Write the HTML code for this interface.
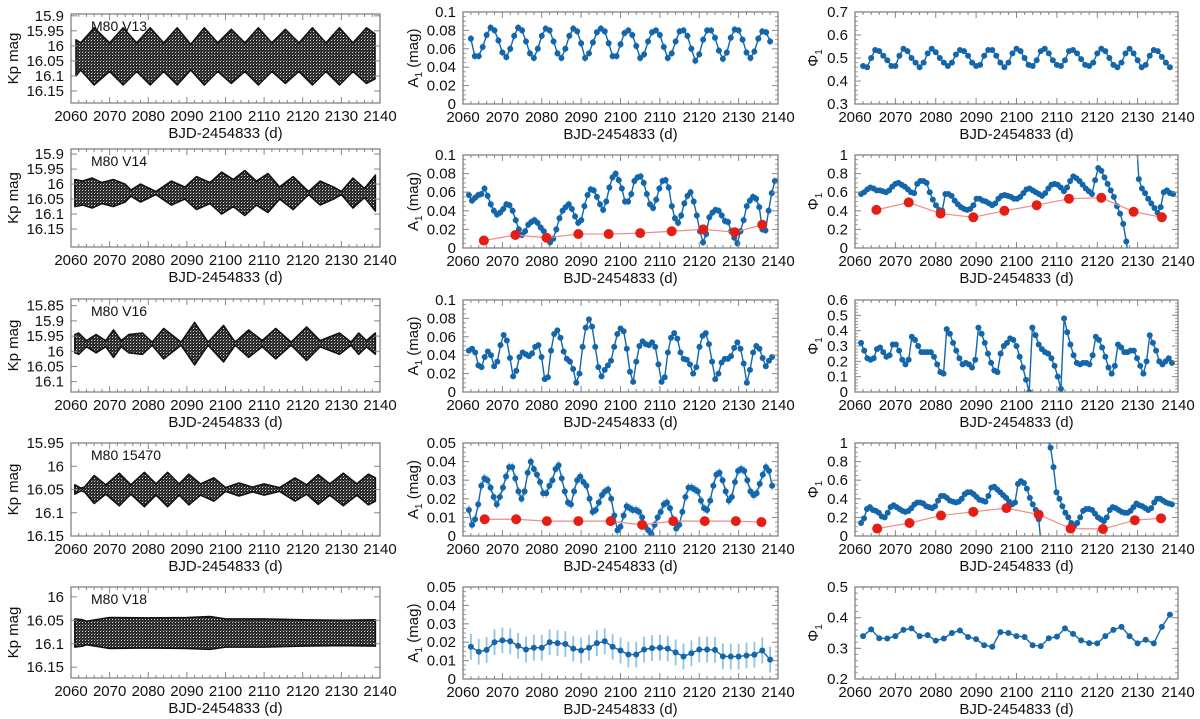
<!DOCTYPE html>
<html><head><meta charset="utf-8"><style>
html,body{margin:0;padding:0;background:#fff}
svg{display:block;font-family:"Liberation Sans",Arial,sans-serif}
</style></head><body>
<svg id="fig" width="1200" height="719" viewBox="0 0 1200 719" xmlns="http://www.w3.org/2000/svg">
<defs>
<pattern id="dots" width="3" height="3" patternUnits="userSpaceOnUse">
<rect x="0" y="0" width="3" height="3" fill="#2a2a2a"/><rect x="1" y="1" width="0.9" height="0.9" fill="#fff"/><rect x="2.2" y="0" width="0.6" height="0.6" fill="#ddd"/>
</pattern>
</defs>
</svg>
<script>
// ---------- DATA ----------
const v13EnvDays=[2061.3,2062.5,2066,2070,2073.5,2077,2080.5,2084,2087.5,2091,2094.5,2098,2101.5,2105,2108.5,2112,2115.5,2119,2122.5,2126,2129.5,2133,2136.5,2138.7];
const v13EnvTop=[15.98,15.99,15.94,15.99,15.94,15.99,15.94,15.99,15.94,15.995,15.94,15.99,15.945,15.99,15.94,15.99,15.945,15.99,15.94,15.99,15.94,15.99,15.94,15.96];
const v13EnvBot=[16.10,16.08,16.13,16.085,16.13,16.085,16.13,16.085,16.13,16.08,16.13,16.085,16.125,16.085,16.13,16.085,16.125,16.085,16.13,16.085,16.13,16.085,16.125,16.11];
const v14EnvDays=[2061,2063,2065.5,2068,2071,2074,2075.5,2078,2082,2086,2089.5,2092.5,2096,2099,2102,2105,2108,2111,2114,2117.5,2121.5,2124.5,2128,2130,2133,2136,2138.8];
const v14EnvHw=[0.045,0.04,0.05,0.035,0.045,0.03,0.01,0.03,0.005,0.04,0.02,0.055,0.035,0.07,0.045,0.075,0.04,0.065,0.02,0.055,0.005,0.04,0.02,0.005,0.05,0.015,0.06];
const v14Centre=16.03;
const v16EnvDays=[2061,2062,2064,2066.5,2069,2071,2073,2075,2078.5,2081,2084,2088.5,2092,2095.5,2099.5,2102.5,2106,2109.5,2113,2117,2121,2124.5,2129.5,2132.5,2134.5,2136.5,2138.8];
const v16EnvHw=[0.03,0.035,0.01,0.03,0.01,0.045,0.01,0.03,0.035,0.005,0.05,0.005,0.07,0.005,0.06,0.005,0.045,0.01,0.05,0.005,0.055,0.01,0.035,0.005,0.035,0.01,0.035];
const v16Centre=15.975;
const s15470EnvDays=[2061,2062.5,2063.5,2066,2069,2072.5,2075.5,2079,2082,2085,2088,2090.5,2093.5,2097,2100,2103.5,2107,2110,2114,2118,2121,2124,2127,2130.5,2134,2137,2138.8];
const s15470EnvHw=[0.01,0.003,0.005,0.03,0.01,0.035,0.01,0.037,0.012,0.037,0.012,0.033,0.012,0.025,0.004,0.014,0.005,0.012,0.004,0.025,0.01,0.032,0.012,0.035,0.012,0.033,0.025];
const s15470Centre=16.05;
const v18EnvDays=[2061,2063,2064,2070,2080,2090,2096,2100,2110,2120,2130,2138.8];
const v18EnvHw=[0.03,0.028,0.025,0.033,0.032,0.033,0.035,0.03,0.03,0.028,0.027,0.028];
const v18Centre=16.077;

const v13A1=[.071,.052,.052,.062,.075,.083,.080,.069,.056,.051,.060,.074,.083,.080,.068,.055,.050,.060,.074,.082,.080,.068,.055,.050,.060,.074,.082,.079,.066,.050,.055,.067,.078,.082,.079,.066,.052,.052,.065,.077,.080,.075,.063,.050,.054,.068,.078,.080,.075,.062,.050,.055,.068,.079,.080,.074,.060,.047,.054,.070,.080,.080,.072,.058,.049,.056,.072,.081,.080,.070,.056,.050,.057,.071,.079,.078,.068];
const v14A1=[.057,.051,.054,.057,.058,.064,.056,.047,.040,.036,.038,.042,.047,.046,.040,.030,.020,.014,.018,.025,.028,.030,.027,.022,.018,.012,.006,.010,.020,.032,.040,.044,.047,.042,.034,.027,.030,.045,.057,.063,.062,.055,.047,.041,.050,.065,.076,.080,.073,.064,.050,.050,.058,.072,.076,.077,.070,.058,.047,.043,.052,.064,.072,.073,.065,.045,.032,.027,.035,.048,.056,.060,.050,.035,.018,.006,.015,.033,.038,.041,.040,.035,.029,.028,.018,.011,.005,.018,.030,.045,.051,.055,.053,.044,.020,.019,.040,.059,.072];
const v14A1RedDays=[2065.3,2073.3,2081.2,2089.3,2097,2105,2113,2121,2129,2136];
const v14A1Red=[.008,.014,.011,.015,.015,.016,.018,.020,.017,.025];
const v16A1=[.045,.047,.043,.029,.027,.038,.044,.040,.028,.033,.051,.062,.056,.037,.017,.023,.038,.043,.041,.039,.042,.049,.051,.038,.014,.016,.045,.063,.067,.059,.044,.036,.033,.025,.010,.020,.049,.070,.079,.071,.049,.027,.017,.024,.029,.034,.049,.063,.069,.066,.047,.022,.011,.033,.050,.055,.052,.051,.054,.049,.030,.011,.016,.043,.059,.064,.058,.043,.036,.035,.030,.020,.027,.049,.061,.064,.052,.033,.014,.020,.032,.036,.036,.039,.048,.054,.047,.031,.010,.024,.043,.050,.047,.037,.028,.034,.038];
const s15470A1=[.014,.006,.009,.017,.027,.031,.030,.026,.021,.017,.021,.026,.032,.037,.037,.031,.024,.020,.024,.034,.040,.036,.033,.029,.023,.023,.027,.030,.036,.038,.031,.024,.018,.017,.024,.030,.032,.029,.027,.020,.013,.014,.018,.022,.024,.025,.020,.011,.003,.005,.011,.016,.015,.014,.014,.013,.010,.005,.003,.001,.006,.010,.013,.017,.018,.015,.009,.004,.006,.013,.021,.026,.026,.025,.024,.019,.015,.014,.019,.027,.033,.034,.030,.024,.019,.021,.029,.035,.036,.035,.030,.024,.022,.023,.028,.033,.037,.035,.027];
const s15470A1RedDays=[2065.5,2073.5,2081.3,2089.3,2097.5,2105.5,2113.4,2121.4,2129.3,2135.8];
const s15470A1Red=[.009,.009,.008,.008,.008,.006,.008,.008,.008,.0075];
const v18Days=[2062,2064,2066,2068,2070,2072,2074,2076,2078,2080,2082,2084,2086,2088,2090,2092,2094,2096,2098,2100,2102,2104,2106,2108,2110,2112,2114,2116,2118,2120,2122,2124,2126,2128,2130,2132,2134,2136,2138];
const v18A1=[.0175,.0148,.0158,.020,.021,.0205,.018,.016,.017,.017,.020,.0195,.019,.0165,.0155,.017,.0195,.0205,.0175,.0155,.0133,.0133,.016,.0168,.017,.0165,.0145,.0122,.014,.016,.016,.0158,.0123,.0122,.0122,.0128,.0132,.0155,.0105];

const v13Phi=[.465,.46,.50,.535,.53,.51,.49,.465,.465,.51,.54,.53,.50,.48,.46,.48,.52,.54,.525,.50,.48,.465,.48,.515,.535,.53,.51,.48,.465,.47,.51,.535,.535,.51,.48,.46,.48,.52,.54,.53,.50,.47,.465,.49,.53,.54,.52,.49,.47,.465,.49,.53,.535,.52,.495,.47,.465,.48,.52,.54,.53,.50,.47,.46,.48,.52,.54,.52,.49,.46,.47,.51,.535,.53,.505,.48,.46];
const v14Phi=[.58,.60,.63,.65,.64,.62,.62,.61,.60,.62,.66,.69,.70,.68,.66,.63,.60,.59,.69,.72,.72,.70,.60,.52,.46,.41,.40,.58,.58,.56,.51,.47,.44,.42,.41,.42,.46,.53,.53,.51,.50,.48,.46,.48,.53,.56,.57,.56,.55,.53,.53,.55,.59,.63,.64,.62,.60,.58,.56,.59,.64,.68,.69,.68,.65,.61,.65,.72,.77,.75,.72,.68,.64,.61,.58,.73,.86,.83,.76,.69,.62,.55,.45,.37,.26,.07,-0.2,null,1.3,.74,.64,.59,.53,.48,.43,.38,.44,.60,.62,.59,.58];
const v14PhiRed=[.41,.49,.37,.33,.40,.46,.53,.54,.39,.33];
const v16Phi=[.32,.27,.22,.21,.22,.28,.29,.26,.23,.24,.31,.31,.27,.21,.18,.21,.36,.34,.30,.26,.26,.26,.26,.23,.18,.13,.12,.41,.38,.32,.27,.22,.18,.19,.18,.16,.21,.42,.38,.32,.25,.19,.14,.13,.25,.30,.32,.35,.34,.30,.23,.16,.08,.00,.42,.37,.31,.28,.26,.25,.22,.17,.10,.02,.48,.39,.31,.24,.19,.18,.19,.19,.18,.24,.36,.34,.29,.23,.16,.12,.17,.31,.29,.26,.26,.27,.27,.22,.17,.12,.20,.37,.32,.27,.20,.18,.20,.22,.19];
const s15470Phi=[.14,.19,.29,.31,.28,.27,.25,.21,.20,.25,.31,.33,.31,.29,.27,.26,.27,.30,.34,.36,.36,.35,.32,.31,.30,.32,.38,.43,.43,.41,.38,.37,.36,.37,.40,.45,.47,.47,.45,.42,.39,.38,.37,.43,.52,.53,.50,.47,.44,.41,.37,.34,.36,.56,.59,.57,.51,.41,.34,.28,.18,-0.15,null,1.1,.95,.74,.47,.40,.32,.25,.20,.14,.11,.14,.20,.27,.29,.29,.28,.24,.20,.18,.16,.20,.28,.31,.30,.28,.26,.25,.25,.27,.31,.35,.33,.32,.30,.28,.30,.36,.40,.40,.38,.36,.35,.34];
const s15470PhiRed=[.08,.14,.22,.26,.30,.23,.08,.075,.17,.19];
const v18Phi=[.34,.362,.333,.332,.34,.36,.365,.34,.343,.325,.332,.35,.358,.337,.33,.31,.305,.353,.35,.34,.337,.31,.307,.333,.338,.365,.347,.326,.317,.316,.34,.36,.37,.34,.316,.328,.316,.37,.41];

const xTicks=[2060,2070,2080,2090,2100,2110,2120,2130,2140];
const kpTicks1=["15.9","15.95","16","16.05","16.1","16.15"];
const kpTicks3=["15.85","15.9","15.95","16","16.05","16.1"];
const kpTicks4=["15.95","16","16.05","16.1","16.15"];
const kpTicks5=["16","16.05","16.1","16.15"];
const a1Ticks10=["0","0.02","0.04","0.06","0.08","0.1"];
const a1Ticks05=["0","0.01","0.02","0.03","0.04","0.05"];

// ---------- DRAWING ----------
const NS="http://www.w3.org/2000/svg";
const svg=document.getElementById('fig');
function mk(tag,attrs,parent){const e=document.createElementNS(NS,tag);for(const k in attrs)e.setAttribute(k,attrs[k]);(parent||svg).appendChild(e);return e;}
const BLUE="#1466aa",LBLUE="#8fc3e8",RED="#e41e14",LRED="#f28a85";
let clipN=0;
function uniformDays(n,a,b){const d=[];for(let i=0;i<n;i++)d.push(a+(b-a)*i/(n-1));return d;}

function panel(p){
  const g=mk('g',{});
  
  
  const sx=v=>p.x0+(v-2060)/80*(p.x1-p.x0);
  const sy=v=>p.y1-(v-p.ymin)/(p.ymax-p.ymin)*(p.y1-p.y0);
  p.sx=sx;p.sy=sy;
  const id='c'+(clipN++);
  const cp=mk('clipPath',{id:id},g);mk('rect',{x:p.x0,y:p.y0,width:p.x1-p.x0,height:p.y1-p.y0},cp);
  const plot=mk('g',{'clip-path':'url(#'+id+')'},g);
  
  
  p.plot=plot;
  for(let d=2060;d<=2140;d+=2){const X=sx(d);const L=(d%10===0)?6:3;
    mk('line',{x1:X,y1:p.y1,x2:X,y2:p.y1-L,stroke:'#888','stroke-width':1},g);
    mk('line',{x1:X,y1:p.y0,x2:X,y2:p.y0+L,stroke:'#888','stroke-width':1},g);}
  const xl=mk('g',{},g);
  
  
  xTicks.forEach(t=>{const tx=mk('text',{x:sx(t),y:p.y1+18,'font-size':15,'text-anchor':'middle',fill:'#111'},xl);tx.textContent=t;});
  const yl=mk('g',{},g);
  
  
  p.yTicks.forEach(t=>{const v=parseFloat(t);const Y=sy(v);
    mk('line',{x1:p.x0,y1:Y,x2:p.x0+6,y2:Y,stroke:'#888'},g);
    mk('line',{x1:p.x1,y1:Y,x2:p.x1-6,y2:Y,stroke:'#888'},g);
    const tx=mk('text',{x:p.x0-7,y:Y+5,'font-size':15,'text-anchor':'end',fill:'#111'},yl);tx.textContent=t;});
  const step=p.minor;
  for(let v=Math.ceil(p.ymin/step-1e-6)*step;v<=p.ymax+1e-9;v+=step){const Y=sy(v);
    mk('line',{x1:p.x0,y1:Y,x2:p.x0+3,y2:Y,stroke:'#999'},g);mk('line',{x1:p.x1,y1:Y,x2:p.x1-3,y2:Y,stroke:'#999'},g);}
  const fr=mk('rect',{x:p.x0,y:p.y0,width:p.x1-p.x0,height:p.y1-p.y0,fill:'none',stroke:'#777','stroke-width':1.2},g);
  
  
  const xt=mk('text',{x:(p.x0+p.x1)/2,y:p.y1+35,'font-size':15,'text-anchor':'middle',fill:'#111'},g);
  xt.textContent='BJD-2454833 (d)';
  
  
  const cy=(p.y0+p.y1)/2;
  const yt=mk('text',{x:p.ytX,y:cy,'font-size':15,'text-anchor':'middle',fill:'#111',transform:'rotate(-90 '+p.ytX+' '+cy+')'},g);
  yt.innerHTML=p.ytitle;
  
  
  if(p.label){const lb=mk('text',{x:p.x0+20,y:p.y0+17,'font-size':14,fill:'#111'},g);lb.textContent=p.label;
    
    }
  return p;
}
function envelope(p,days,top,bot){
  let d='M'+days.map((t,i)=>p.sx(t)+','+p.sy(top[i])).join('L');
  for(let i=days.length-1;i>=0;i--)d+='L'+p.sx(days[i])+','+p.sy(bot[i]);
  const e=mk('path',{d:d+'Z',fill:'url(#dots)',stroke:'#111','stroke-width':1.6,'stroke-linejoin':'round'},p.plot);
  
  
}
function envHw(p,days,hw,c){envelope(p,days,hw.map(h=>c-h),hw.map(h=>c+h));}
function series(p,days,vals,o){
  const g=mk('g',{},p.plot);
  
  
  if(o.err){vals.forEach((v,i)=>{if(v===null)return;const X=p.sx(days[i]);
    const b=mk('line',{x1:X,y1:p.sy(v-o.err),x2:X,y2:p.sy(v+o.err),stroke:LBLUE,'stroke-width':o.errW||1.5},g);
    
    });}
  let segs=[],cur=[];
  vals.forEach((v,i)=>{if(v===null){if(cur.length)segs.push(cur);cur=[];}else cur.push(p.sx(days[i])+','+p.sy(v));});
  if(cur.length)segs.push(cur);
  segs.forEach(s=>{const l=mk('polyline',{points:s.join(' '),fill:'none',stroke:o.line,'stroke-width':o.lw||1.4},g);
    
    });
  vals.forEach((v,i)=>{if(v===null)return;const c=mk('circle',{cx:p.sx(days[i]),cy:p.sy(v),r:o.r,fill:o.color},g);
    
    });
}

const C1={x0:71,x1:380},C2={x0:463,x1:778},C3={x0:855,x1:1178};
const R2=[[12,104],[155,248],[300,392],[443,536],[587,679]];
const R1=[[14,103],[149,247],[299,392],[443,536],[587,678]];
const kpTitle='Kp mag', a1Title='A<tspan font-size="10" dy="4">1</tspan><tspan dy="-4"> (mag)</tspan>', phTitle='Φ<tspan font-size="10" dy="4">1</tspan>';
const blueOpt=(n,e)=>({name:n,color:BLUE,line:BLUE,r:3,err:e});
const redOpt=n=>({name:n,color:RED,line:LRED,r:5,lw:1.2});

let p=panel({name:'panel-v13-lightcurve',x0:C1.x0,x1:C1.x1,y0:R1[0][0],y1:R1[0][1],ymin:16.19,ymax:15.894,yTicks:kpTicks1,minor:0.01,ytX:18,ytitle:kpTitle,label:'M80 V13'});
envelope(p,v13EnvDays,v13EnvTop,v13EnvBot);
p=panel({name:'panel-v13-amplitude',x0:C2.x0,x1:C2.x1,y0:R2[0][0],y1:R2[0][1],ymin:0,ymax:0.1,yTicks:a1Ticks10,minor:0.005,ytX:418,ytitle:a1Title});
series(p,uniformDays(v13A1.length,2062,2138),v13A1,blueOpt('a1-series',0.004));
p=panel({name:'panel-v13-phase',x0:C3.x0,x1:C3.x1,y0:R2[0][0],y1:R2[0][1],ymin:0.3,ymax:0.7,yTicks:["0.3","0.4","0.5","0.6","0.7"],minor:0.02,ytX:818,ytitle:phTitle});
series(p,uniformDays(v13Phi.length,2062,2138),v13Phi,blueOpt('phase-series',0));

p=panel({name:'panel-v14-lightcurve',x0:C1.x0,x1:C1.x1,y0:R1[1][0],y1:R1[1][1],ymin:16.21,ymax:15.883,yTicks:kpTicks1,minor:0.01,ytX:18,ytitle:kpTitle,label:'M80 V14'});
envHw(p,v14EnvDays,v14EnvHw,v14Centre);
p=panel({name:'panel-v14-amplitude',x0:C2.x0,x1:C2.x1,y0:R2[1][0],y1:R2[1][1],ymin:0,ymax:0.1,yTicks:a1Ticks10,minor:0.005,ytX:418,ytitle:a1Title});
series(p,uniformDays(v14A1.length,2061.5,2139.2),v14A1,blueOpt('a1-series',0.004));
series(p,v14A1RedDays,v14A1Red,redOpt('a1-red-series'));
p=panel({name:'panel-v14-phase',x0:C3.x0,x1:C3.x1,y0:R2[1][0],y1:R2[1][1],ymin:0,ymax:1,yTicks:["0","0.2","0.4","0.6","0.8","1"],minor:0.05,ytX:818,ytitle:phTitle});
series(p,uniformDays(v14Phi.length,2061.5,2138.8),v14Phi,blueOpt('phase-series',0));
series(p,v14A1RedDays,v14PhiRed,redOpt('phase-red-series'));

p=panel({name:'panel-v16-lightcurve',x0:C1.x0,x1:C1.x1,y0:R1[2][0],y1:R1[2][1],ymin:16.134,ymax:15.828,yTicks:kpTicks3,minor:0.01,ytX:18,ytitle:kpTitle,label:'M80 V16'});
envHw(p,v16EnvDays,v16EnvHw,v16Centre);
p=panel({name:'panel-v16-amplitude',x0:C2.x0,x1:C2.x1,y0:R2[2][0],y1:R2[2][1],ymin:0,ymax:0.1,yTicks:a1Ticks10,minor:0.005,ytX:418,ytitle:a1Title});
series(p,uniformDays(v16A1.length,2061.5,2138.5),v16A1,blueOpt('a1-series',0.002));
p=panel({name:'panel-v16-phase',x0:C3.x0,x1:C3.x1,y0:R2[2][0],y1:R2[2][1],ymin:0,ymax:0.6,yTicks:["0","0.1","0.2","0.3","0.4","0.5","0.6"],minor:0.02,ytX:818,ytitle:phTitle});
series(p,uniformDays(v16Phi.length,2061.5,2138.5),v16Phi,blueOpt('phase-series',0));

p=panel({name:'panel-15470-lightcurve',x0:C1.x0,x1:C1.x1,y0:R1[3][0],y1:R1[3][1],ymin:16.15,ymax:15.95,yTicks:kpTicks4,minor:0.01,ytX:18,ytitle:kpTitle,label:'M80 15470'});
envHw(p,s15470EnvDays,s15470EnvHw,s15470Centre);
p=panel({name:'panel-15470-amplitude',x0:C2.x0,x1:C2.x1,y0:R2[3][0],y1:R2[3][1],ymin:0,ymax:0.05,yTicks:a1Ticks05,minor:0.0025,ytX:418,ytitle:a1Title});
series(p,uniformDays(s15470A1.length,2061.5,2138.5),s15470A1,blueOpt('a1-series',0.0025));
series(p,s15470A1RedDays,s15470A1Red,redOpt('a1-red-series'));
p=panel({name:'panel-15470-phase',x0:C3.x0,x1:C3.x1,y0:R2[3][0],y1:R2[3][1],ymin:0,ymax:1,yTicks:["0","0.2","0.4","0.6","0.8","1"],minor:0.05,ytX:818,ytitle:phTitle});
series(p,uniformDays(s15470Phi.length,2061.5,2138.5),s15470Phi,blueOpt('phase-series',0));
series(p,s15470A1RedDays,s15470PhiRed,redOpt('phase-red-series'));

p=panel({name:'panel-v18-lightcurve',x0:C1.x0,x1:C1.x1,y0:R1[4][0],y1:R1[4][1],ymin:16.173,ymax:15.979,yTicks:kpTicks5,minor:0.01,ytX:18,ytitle:kpTitle,label:'M80 V18'});
envHw(p,v18EnvDays,v18EnvHw,v18Centre);
p=panel({name:'panel-v18-amplitude',x0:C2.x0,x1:C2.x1,y0:R2[4][0],y1:R2[4][1],ymin:0,ymax:0.05,yTicks:a1Ticks05,minor:0.0025,ytX:418,ytitle:a1Title});
series(p,v18Days,v18A1,{name:'a1-series',color:BLUE,line:BLUE,r:3,err:0.007,errW:1.8});
p=panel({name:'panel-v18-phase',x0:C3.x0,x1:C3.x1,y0:R2[4][0],y1:R2[4][1],ymin:0.2,ymax:0.5,yTicks:["0.2","0.3","0.4","0.5"],minor:0.02,ytX:818,ytitle:phTitle});
series(p,v18Days,v18Phi,blueOpt('phase-series',0));
</script>
</body></html>
